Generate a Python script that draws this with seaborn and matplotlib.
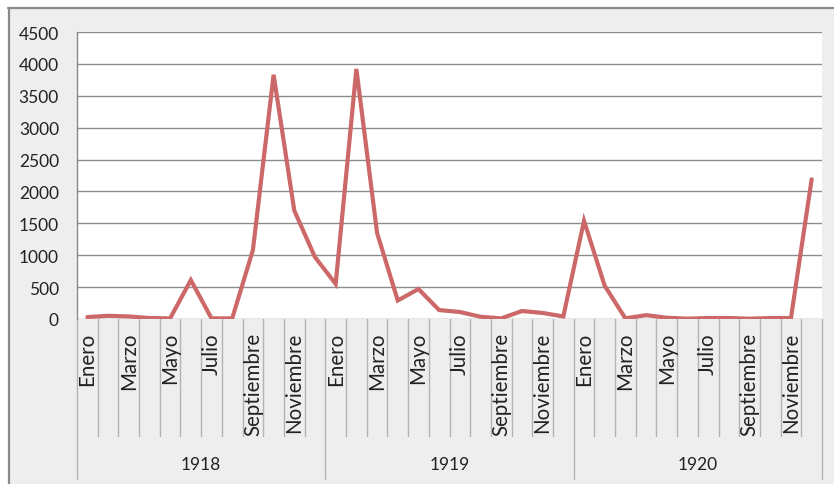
import matplotlib
matplotlib.use("Agg")
import matplotlib.pyplot as plt
import matplotlib.transforms as mtransforms
from matplotlib.lines import Line2D
import seaborn as sns
import pandas as pd

# Monthly counts, January 1918 - December 1920
anios = ["1918", "1919", "1920"]
meses = ["Enero", "Febrero", "Marzo", "Abril", "Mayo", "Junio", "Julio",
         "Agosto", "Septiembre", "Octubre", "Noviembre", "Diciembre"]
valores_1918 = [30, 50, 40, 15, 10, 610, 10, 10, 1080, 3830, 1700, 970]
valores_1919 = [550, 3920, 1350, 290, 470, 140, 110, 35, 10, 125, 95, 40]
valores_1920 = [1540, 520, 10, 60, 20, 5, 15, 15, 5, 15, 15, 2190]
y_ticks = [0, 500, 1000, 1500, 2000, 2500, 3000, 3500, 4000, 4500]

valores = valores_1918 + valores_1919 + valores_1920
df = pd.DataFrame({
    "idx": range(len(valores)),
    "anio": [a for a in anios for _ in meses],
    "mes": meses * len(anios),
    "valor": valores,
})

sns.set_theme(style="white")
plt.rcParams["font.family"] = ["Lato", "DejaVu Sans"]

W, H = 834, 485
fig = plt.figure(figsize=(W / 100, H / 100), dpi=100)
fig.patch.set_facecolor("white")

# grey chart-area background with a border on its top and left edges
fig.patches.append(plt.Rectangle((8 / W, 0), 1, 1 - 8.5 / H, transform=fig.transFigure,
                                 facecolor="#eeeeee", edgecolor="none", zorder=-10))
fig.lines.append(Line2D([8 / W, 1], [1 - 8.5 / H] * 2, transform=fig.transFigure,
                        color="#8a8a8a", lw=1.6, zorder=-9))
fig.lines.append(Line2D([8.5 / W] * 2, [1 - 8.5 / H, 0], transform=fig.transFigure,
                        color="#8a8a8a", lw=1.6, zorder=-9))

left, right, top, bottom = 77, 822, 33, 320
ax = fig.add_axes([left / W, 1 - bottom / H, (right - left) / W, (bottom - top) / H])
ax.set_facecolor("white")

sns.lineplot(data=df, x="idx", y="valor", ax=ax, color="#cc6868", linewidth=3.0,
             solid_joinstyle="miter", zorder=3)

n = len(valores)
ax.set_xlim(-0.5, n - 0.5)
ax.set_ylim(0, 4500)
ax.set_yticks(y_ticks)
ax.set_yticklabels([str(v) for v in y_ticks], fontsize=12.5, color="#222222")
ax.tick_params(axis="y", length=5, width=1, color="#8a8a8a", pad=8)
ax.set_xticks([])
ax.set_xlabel("")
ax.set_ylabel("")
ax.yaxis.grid(True, color="#8c8c8c", lw=1.0)
ax.set_axisbelow(True)
for s in ["top", "right", "bottom"]:
    ax.spines[s].set_visible(False)
ax.spines["left"].set_color("#8a8a8a")
ax.spines["left"].set_linewidth(1.0)

# two-level category axis: months and years
trans = mtransforms.blended_transform_factory(ax.transData, ax.transAxes)
h = bottom - top
month_depth = -(437 - bottom) / h
year_depth = -(480 - bottom) / h
for k in range(n + 1):
    depth = year_depth if k % 12 == 0 else month_depth
    ax.plot([k - 0.5, k - 0.5], [0, depth], transform=trans, color="#b4b4b4",
            lw=1.0, clip_on=False, zorder=1)

for i, row in df.iterrows():
    if i % 2 == 0:
        ax.text(row["idx"], -(333 - bottom) / h, row["mes"], transform=trans,
                rotation=90, ha="center", va="top", fontsize=14.8, color="#222222")

for j, a in enumerate(anios):
    ax.text(j * 12 + 5.5, -(465 - bottom) / h, a, transform=trans,
            ha="center", va="center", fontsize=12.5, color="#222222")

fig.savefig("out.png", dpi=100, facecolor=fig.get_facecolor())
